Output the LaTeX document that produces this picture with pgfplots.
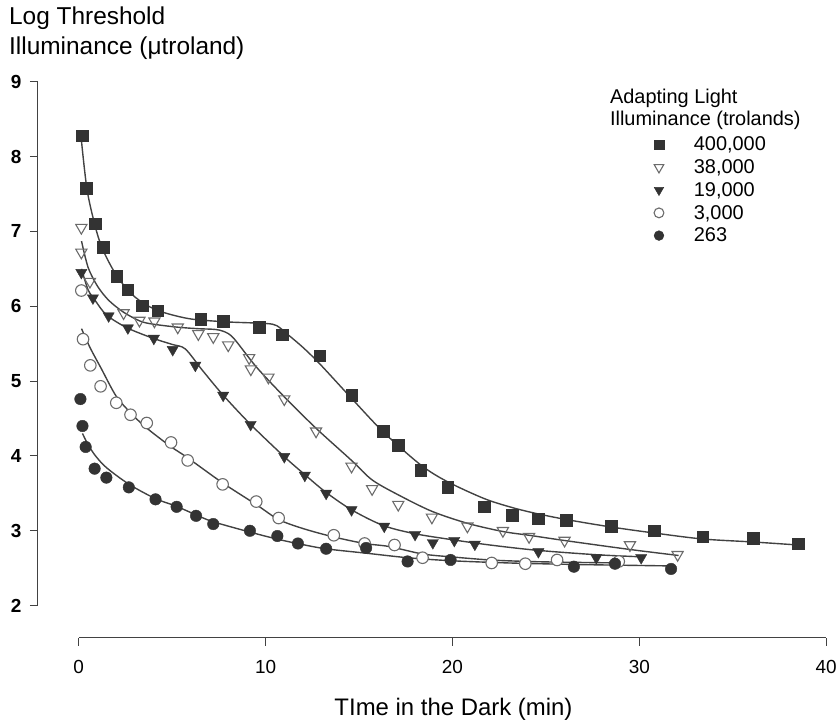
\documentclass[border=0pt]{standalone}
\usepackage{fontspec}
\setmainfont{Liberation Sans}
\usepackage{pgfplots}
\pgfplotsset{compat=1.18}
\usetikzlibrary{calc}
\definecolor{mk}{gray}{0.2}
\definecolor{ln}{gray}{0.26}
\definecolor{op}{gray}{0.42}
\begin{document}
\begin{tikzpicture}
\begin{axis}[
  scale only axis, width=791pt, height=558pt,
  xmin=-2.187, xmax=40, ymin=1.57, ymax=9,
  axis line style={draw=none},
  xtick={0,10,20,30,40}, ytick={2,3,4,5,6,7,8,9},
  tick pos=left, tick align=outside, major tick length=8pt,
  tick style={ln, line width=1.1pt},
  xticklabel style={font=\fontsize{19}{22}\selectfont, yshift=-11pt},
  yticklabel style={font=\fontsize{19}{22}\selectfont\bfseries, xshift=-5pt},
  /pgf/number format/assume math mode=true,
  clip=false,
  legend cell align=left,
  legend image code/.code={\path[draw=none, fill=none] (-12pt,-11.4pt) rectangle (35pt,11.4pt);
    \draw[#1, every mark/.append style={scale=0.85}] plot coordinates {(0pt,0pt)};},
  legend style={at={(rel axis cs:0.7725,0.9075)}, anchor=north west,
    draw=none, fill=none, inner sep=0pt, row sep=0pt, column sep=0pt,
    nodes={inner sep=0pt}, font=\fontsize{20}{22}\selectfont},
]
\coordinate (sw) at (rel axis cs:0,0);
\draw[ln, line width=1.2pt] (axis cs:-2.187,2) -- (axis cs:-2.187,9);
\draw[ln, line width=1.2pt] (axis cs:0,1.57) -- (axis cs:40,1.57);

% fitted curves
\addplot[ln, line width=1.4pt, smooth, tension=0.5, forget plot] coordinates {
(0.15,8.2)(0.45,7.55)(0.9,7.05)(1.3,6.75)(2,6.42)(2.8,6.17)(3.6,6.02)(4.5,5.92)
(6,5.83)(8,5.79)(10,5.77)(10.6,5.74)(11.2,5.62)(12,5.45)(12.9,5.23)(14.6,4.77)
(16.3,4.32)(18.3,3.88)(19.7,3.66)(21.7,3.43)(23.2,3.31)(24.5,3.23)(26.1,3.15)
(28.5,3.05)(30.8,2.97)(33.4,2.89)(36.1,2.85)(38.5,2.81)};
\addplot[ln, line width=1.4pt, smooth, tension=0.5, forget plot] coordinates {
(0.15,6.87)(0.5,6.52)(1,6.27)(1.6,6.08)(2.4,5.92)(3.3,5.8)(4,5.76)(5.3,5.72)
(6.4,5.7)(7.3,5.69)(7.8,5.66)(8.3,5.57)(9.5,5.19)(11,4.79)(12.7,4.37)(14.6,3.94)
(15.7,3.68)(17.1,3.48)(18.9,3.26)(20.8,3.1)(22.7,2.99)(24.1,2.94)(26,2.87)
(29.5,2.75)(32.1,2.67)};
\addplot[ln, line width=1.4pt, smooth, tension=0.5, forget plot] coordinates {
(0.15,6.5)(0.5,6.22)(0.9,6.07)(1.5,5.88)(2.6,5.71)(4,5.57)(5,5.49)(5.7,5.43)
(6.6,5.15)(7.7,4.82)(9.2,4.42)(11,3.99)(12.1,3.75)(13.2,3.52)(14.6,3.28)
(16.3,3.07)(18,2.96)(20,2.88)(22,2.81)(24.5,2.74)(27.7,2.68)(30.3,2.65)};
\addplot[ln, line width=1.4pt, smooth, tension=0.5, forget plot] coordinates {
(0.15,5.7)(0.6,5.45)(1.2,5.17)(2,4.8)(2.8,4.57)(3.6,4.38)(4.9,4.13)(5.8,3.98)
(7.7,3.64)(9.5,3.35)(10.7,3.15)(12,3.03)(13.6,2.92)(15.3,2.83)(16.6,2.79)
(18.4,2.69)(20,2.65)(22,2.61)(24,2.59)(26,2.58)(29,2.57)};
\addplot[ln, line width=1.4pt, smooth, tension=0.5, forget plot] coordinates {
(0.2,4.3)(0.5,4.15)(0.9,4.0)(1.5,3.84)(2.7,3.62)(4.1,3.43)(5.2,3.33)(6.3,3.21)
(7.2,3.12)(9.2,2.98)(10.6,2.89)(11.7,2.83)(13.2,2.76)(15.4,2.7)(17.6,2.64)
(19.9,2.6)(23,2.57)(26.5,2.55)(29,2.54)(31.8,2.53)};

% data points
\addplot[only marks, mark=square*, mark size=5.8pt, mark options={fill=mk, draw=mk}] coordinates {
(0.18,8.28)(0.41,7.58)(0.89,7.10)(1.30,6.79)(2.04,6.40)(2.63,6.22)(3.40,6.01)
(4.23,5.94)(6.52,5.83)(7.72,5.80)(9.65,5.72)(10.9,5.62)(12.9,5.34)(14.6,4.81)
(16.3,4.33)(17.1,4.14)(18.3,3.81)(19.75,3.58)(21.7,3.32)(23.2,3.21)(24.6,3.16)
(26.1,3.14)(28.5,3.06)(30.8,3.00)(33.4,2.92)(36.1,2.90)(38.5,2.83)};
\addlegendentry{400,000}
\addplot[only marks, mark=triangle, mark size=6.5pt, mark options={rotate=180, draw=op, fill=white, line width=1.1pt}] coordinates {
(0.14,7.05)(0.14,6.72)(0.6,6.33)(2.4,5.91)(3.25,5.81)(4.05,5.80)(5.30,5.72)
(6.4,5.63)(7.2,5.59)(8.0,5.48)(9.12,5.31)(9.21,5.16)(10.15,5.05)(11.0,4.76)
(12.7,4.33)(14.6,3.86)(15.7,3.56)(17.1,3.35)(18.9,3.18)(20.8,3.06)(22.7,3.00)
(24.1,2.92)(26.0,2.87)(29.5,2.81)(32.05,2.68)};
\addlegendentry{38,000}
\addplot[only marks, mark=triangle*, mark size=6.5pt, mark options={rotate=180, draw=mk, fill=mk}] coordinates {
(0.14,6.45)(0.76,6.11)(1.6,5.87)(2.63,5.71)(4.02,5.57)(5.03,5.42)(6.24,5.21)
(7.73,4.81)(9.2,4.42)(11.0,3.99)(12.1,3.74)(13.24,3.50)(14.6,3.28)(16.35,3.06)
(18.0,2.95)(18.95,2.84)(20.1,2.87)(21.2,2.82)(24.6,2.72)(27.7,2.64)(30.1,2.64)};
\addlegendentry{19,000}
\addplot[only marks, mark=*, mark size=5.8pt, mark options={draw=op, fill=white, line width=1.1pt}] coordinates {
(0.14,6.21)(0.23,5.56)(0.62,5.21)(1.17,4.93)(2.01,4.71)(2.77,4.55)(3.64,4.44)
(4.94,4.18)(5.83,3.94)(7.70,3.62)(9.5,3.39)(10.7,3.17)(13.65,2.94)(15.3,2.83)
(16.9,2.81)(18.4,2.64)(22.1,2.57)(23.9,2.56)(25.6,2.61)(28.9,2.59)};
\addlegendentry{3,000}
\addplot[only marks, mark=*, mark size=5.8pt, mark options={draw=mk, fill=mk}] coordinates {
(0.09,4.76)(0.2,4.40)(0.37,4.12)(0.85,3.83)(1.48,3.71)(2.68,3.58)(4.11,3.42)
(5.24,3.32)(6.28,3.20)(7.2,3.09)(9.16,3.00)(10.63,2.93)(11.73,2.83)(13.24,2.76)
(15.38,2.77)(17.6,2.59)(19.9,2.61)(26.5,2.52)(28.7,2.56)(31.7,2.49)};
\addlegendentry{263}
\end{axis}
\begin{scope}[shift={($(sw)+(-38pt,640pt)$)}, x=1pt, y=-1pt]
\path (0,0) rectangle (840,728);
\node[anchor=west, inner sep=0pt, font=\fontsize{24.5}{27}\selectfont] at (9,18) {Log Threshold};
\node[anchor=west, inner sep=0pt, font=\fontsize{24.5}{27}\selectfont] at (9,48) {Illuminance (μtroland)};
\node[anchor=west, inner sep=0pt, font=\fontsize{20}{22}\selectfont] at (612,99) {Adapting Light};
\node[anchor=west, inner sep=0pt, font=\fontsize{20}{22}\selectfont] at (612,121) {Illuminance (trolands)};
\node[inner sep=0pt, font=\fontsize{24}{26}\selectfont] at (455,712) {TIme in the Dark (min)};
\end{scope}
\end{tikzpicture}
\end{document}
